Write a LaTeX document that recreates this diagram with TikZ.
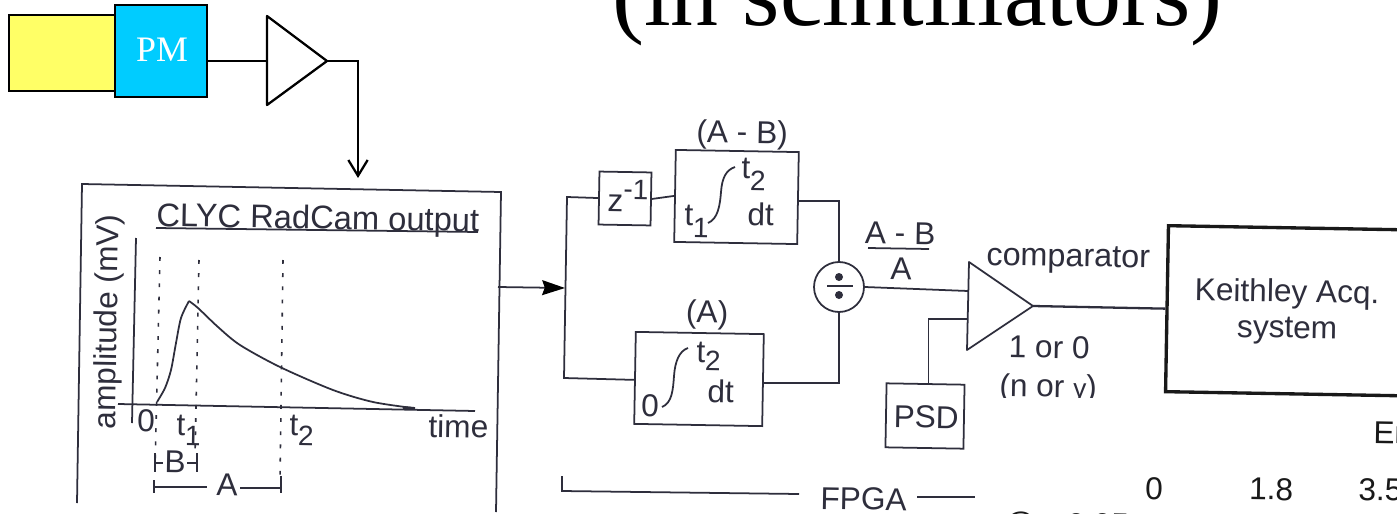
\documentclass[tikz,border=0pt]{standalone}
\usepackage{fontspec}
\setmainfont{Liberation Sans}
\newfontfamily\slidefont{Liberation Serif}
\usetikzlibrary{calc,arrows.meta,positioning}
\definecolor{scanink}{HTML}{2E2E3C}
\definecolor{scintyellow}{HTML}{FFFF66}
\definecolor{pmblue}{HTML}{00CCFF}
\newcommand{\lowsub}[2][6]{\raisebox{-#1pt}{\fontsize{16}{16}\selectfont #2}}

\begin{document}
\begin{tikzpicture}[x=0.02cm, y=-0.02cm,
 slideline/.style={black, line width=1.3pt},
 scanline/.style={scanink, line width=1pt},
 scanbox/.style={draw=scanink, line width=1pt, rotate=-1, inner sep=0pt},
 scantext/.style={text=scanink, font=\fontsize{18}{20}\selectfont, inner sep=0pt, anchor=base, rotate=-1},
 timemark/.style={scanline, line width=0.9pt, dash pattern=on 2.2pt off 5.3pt}]

 \clip (0,0) rectangle (1397,514);
 \fill[white] (0,0) rectangle (1397,514);

 % slide part
 \node (heading) [anchor=base west, inner sep=0pt, font=\slidefont\fontsize{54.6}{56}\selectfont] at (612,25) {(in scintillators)};
 \node (scint) [draw, slideline, fill=scintyellow, minimum width=106*0.02cm, minimum height=76*0.02cm, inner sep=0pt] at (62,53) {};
 \node (pm) [draw, slideline, fill=pmblue, minimum width=92*0.02cm, minimum height=92*0.02cm, inner sep=0pt] at (161,51) {};
 \node (pmtext) [anchor=base, inner sep=0pt, text=white, font=\slidefont\fontsize{20.4}{22}\selectfont] at (162,61) {PM};

 \coordinate (ampin) at (267,61);
 \coordinate (amptip) at (327,61);
 \coordinate (ampturn) at (358,61);
 \coordinate (ampend) at (358,178);
 \draw[slideline, line join=round] (267,16) -- (amptip) -- (267,105) -- cycle;
 \draw[slideline] ($(pm.east)+(0,10)$) -- (ampin);
 \draw[slideline, -{Straight Barb[length=9pt,width=11pt]}] (amptip) -- (ampturn) -- (ampend);

 % scanned plot
 \coordinate (frameout) at (498,287);
 \draw[scanline] (77,503) -- (82,184) -- (501,192) -- (496,512);
 \node (plottitle) [scantext, anchor=base west, font=\fontsize{18.6}{20}\selectfont] at (156,226) {CLYC RadCam output};
 \draw[scanline] (156,228) -- (478,232);
 \node (ylabel) [scantext, rotate=90] at (117,322) {amplitude (mV)};
 \node (xlabel) [scantext, anchor=base west] at (428,437) {time};
 \draw[scanline] (136,238) -- (132,423);
 \draw[scanline] (118,404) -- (475,411);
 \draw[timemark] (160,257) -- (155,470);
 \draw[timemark] (199,260) -- (195,457);
 \draw[timemark] (283,260) -- (280,480);
 \draw[scanline] plot[smooth] coordinates {(157,402) (165,388) (171,370) (176,343) (181,318) (189,301)};
 \draw[scanline] plot[smooth] coordinates {(189,301) (198,308) (218,327) (240,345) (280,367) (333,390) (373,402) (413,408)};
 \draw[scanink, line width=1.6pt] (403,407.5) -- (415,408.5);

 \node (tzero) [scantext] at (146,432) {0};
 \node (tone) [scantext, anchor=base west] at (176,435) {t\lowsub{1}};
 \node (ttwo) [scantext, anchor=base west] at (289,435) {t\lowsub{2}};
 \node (blabel) [scantext] at (175,473) {B};
 \node (alabel) [scantext] at (227,496) {A};
 \draw[scanline] (155,453) -- (155,472);
 \draw[scanline] (197,453) -- (197,472);
 \draw[scanline] (155,463) -- (163,463);
 \draw[scanline] (187,463) -- (197,463);
 \draw[scanline] (154,480) -- (154,493);
 \draw[scanline] (281,476) -- (281,493);
 \draw[scanline] (154,487) -- (207,487);
 \draw[scanline] (240,488) -- (281,488);

 % FPGA blocks
 \node (zbox) [scanbox, minimum width=52*0.02cm, minimum height=53*0.02cm] at (625,198.5) {};
 \node (ztext) [scantext, anchor=base west] at (607,211) {z\raisebox{7pt}{\fontsize{16}{16}\selectfont -1}};
 \node (intab) [scanbox, minimum width=123*0.02cm, minimum height=92*0.02cm] at (736.5,197) {};
 \node (intzero) [scanbox, minimum width=128*0.02cm, minimum height=92*0.02cm] at (699,379) {};
 \node (abtext) [scantext] at (742,143) {(A - B)};
 \node (atext) [scantext] at (707,323) {(A)};
 \node (abupper) [scantext, anchor=base west] at (741,178) {t\lowsub[7]{2}};
 \node (ablower) [scantext, anchor=base west] at (684,225) {t\lowsub[7]{1}};
 \node (abdt) [scantext, anchor=base west] at (747,225) {dt};
 \node (zeroupper) [scantext, anchor=base west] at (696,362) {t\lowsub[5]{2}};
 \node (zerolower) [scantext] at (650,417) {0};
 \node (zerodt) [scantext, anchor=base west] at (707,402) {dt};
 \draw[scanline] (708,223) .. controls (718,219) and (720,205) .. (721,192) .. controls (722,178) and (726,170) .. (735,167);
 \draw[scanline] (662,407) .. controls (672,403) and (673,390) .. (674,376) .. controls (675,362) and (679,351) .. (688,348);

 \node (divide) [draw=scanink, line width=1pt, circle, minimum size=50*0.02cm, inner sep=0pt] at (839,287) {};
 \fill[scanink] (839,277) circle (4);
 \fill[scanink] (839,295) circle (4);
 \draw[scanink, line width=1.5pt] (827,286) -- (853,286);

 \coordinate (bustop) at (567,197);
 \coordinate (busbot) at (564,378);
 \coordinate (busin) at (565,288);
 \draw[scanline] (zbox.west) -- (bustop) -- (busbot) -- ($(intzero.west)+(0,2)$);
 \draw[scanline, -{Stealth[inset=1.5pt,length=13pt,width=8.5pt,black]}] (frameout) -- (busin);
 \draw[scanline] (zbox.east) -- (intab.west);
 \draw[scanline] ($(intab.east)+(0,3)$) -| (divide.north);
 \draw[scanline] ($(intzero.east)+(0,3)$) -| (divide.south);

 \node (ratiotop) [scantext] at (900,244) {A - B};
 \node (ratiobot) [scantext] at (901,280) {A};
 \draw[scanline] (868,248) -- (929,249);

 \coordinate (compin) at (968,291);
 \coordinate (compref) at (968,319);
 \coordinate (comptip) at (1033,306);
 \draw[scanline, line join=round] (969,262) -- (comptip) -- (967,350) -- cycle;
 \node (comptext) [scantext, anchor=base west, font=\fontsize{18.4}{20}\selectfont] at (986,265) {comparator};
 \node (psd) [scanbox, minimum width=78*0.02cm, minimum height=64*0.02cm] at (925,416) {};
 \node (psdtext) [scantext] at (926,428) {PSD};
 \draw[scanline] (divide.east) -- (compin);
 \draw[scanline] ($(psd.north)+(3,0)$) |- (compref);

 \node (keithley) [draw=black!90, line width=1.9pt, rotate=-1, inner sep=0pt, minimum width=266*0.02cm, minimum height=166*0.02cm] at (1300,311) {};
 \node (keithtop) [scantext] at (1287,302) {Keithley Acq.};
 \node (keithbot) [scantext] at (1287,338) {system};
 \draw[scanink, line width=1.3pt] (comptip) -- (keithley.west);

 \node (bitone) [scantext] at (1049,358) {1 or 0};
 \node (bittwo) [scantext] at (1048,397) {(n or {\fontsize{15}{15}\selectfont γ})};

 \draw[scanline] (562,476) -- (562,491) -- (799,494);
 \node (fpga) [scantext, anchor=base west] at (820,509) {FPGA};
 \draw[scanline] (917,497) -- (980,497);

 % table part, pasted over the scan
 \fill[white] (975,398) rectangle (1397,514);
 \node (energy) [scantext, text=black!90, rotate=0, anchor=base west] at (1373,443) {Er};
 \node (colzero) [scantext, text=black!90, rotate=0] at (1154,500) {0};
 \node (colone) [scantext, text=black!90, rotate=0] at (1271,500) {1.8};
 \node (coltwo) [scantext, text=black!90, rotate=0, anchor=base west] at (1358,500) {3.5};
 \node (rowlabel) [scantext, text=black!90, rotate=0, anchor=base west] at (1003,534) {@\hspace{13pt} 0.05};

\end{tikzpicture}
\end{document}
